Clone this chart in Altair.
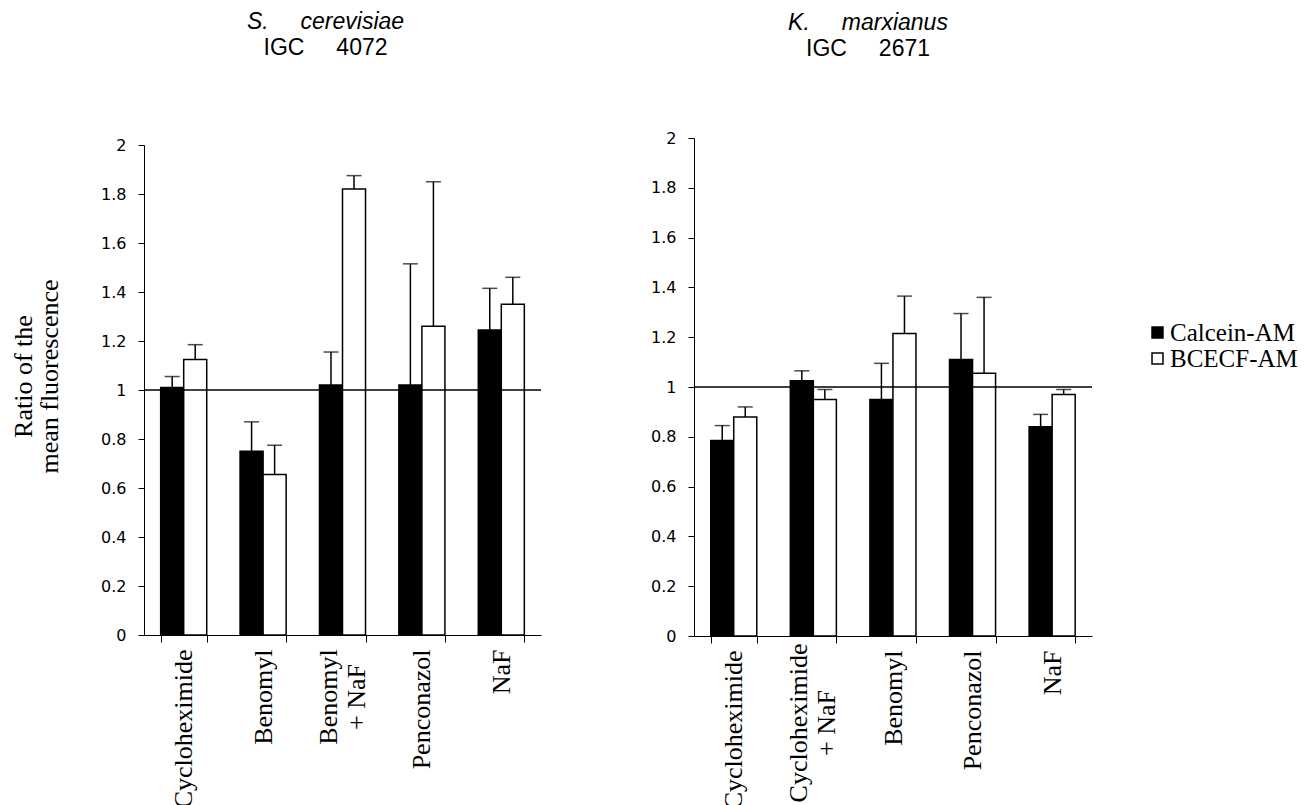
import altair as alt
import pandas as pd

NB = "\u00a0"

series = ["Calcein-AM", "BCECF-AM"]

# Left panel: S. cerevisiae IGC 4072
left_categories = ["Cycloheximide", "Benomyl", "Benomyl + NaF", "Penconazol", "NaF"]
left_calcein = [1.01, 0.75, 1.02, 1.02, 1.245]
left_calcein_err = [0.045, 0.12, 0.135, 0.495, 0.17]
left_bcecf = [1.125, 0.655, 1.82, 1.26, 1.35]
left_bcecf_err = [0.06, 0.12, 0.055, 0.59, 0.11]

# Right panel: K. marxianus IGC 2671
right_categories = ["Cycloheximide", "Cycloheximide + NaF", "Benomyl", "Penconazol", "NaF"]
right_calcein = [0.785, 1.025, 0.95, 1.11, 0.84]
right_calcein_err = [0.06, 0.04, 0.145, 0.185, 0.05]
right_bcecf = [0.88, 0.95, 1.215, 1.055, 0.97]
right_bcecf_err = [0.04, 0.04, 0.15, 0.305, 0.02]

y_ticks = [0, 0.2, 0.4, 0.6, 0.8, 1, 1.2, 1.4, 1.6, 1.8, 2]

# two-line category labels (drawn as centred text blocks)
multi_labels = {
    "Benomyl + NaF": "Benomyl|+ NaF",
    "Cycloheximide + NaF": "Cycloheximide|+ NaF",
}


def make_df(cats, calc, calc_err, bc, bc_err):
    rows = []
    for i, c in enumerate(cats):
        rows.append({"cat": c, "series": series[0], "value": calc[i], "upper": calc[i] + calc_err[i]})
        rows.append({"cat": c, "series": series[1], "value": bc[i], "upper": bc[i] + bc_err[i]})
    return pd.DataFrame(rows)


def panel(cats, df, title, subtitle, width, height, yrange, show_ytitle, dx, toff, multi_dx):
    base = alt.Chart(df)
    x = alt.X(
        "cat:N",
        sort=cats,
        title=None,
        scale=alt.Scale(paddingInner=0.42, paddingOuter=0.21),
        axis=alt.Axis(
            labelAngle=-90,
            labelAlign="right",
            labelBaseline="middle",
            labelFont="Liberation Serif",
            labelFontSize=26,
            labelColor="black",
            labelPadding=7,
            labelExpr="indexof(datum.label, '+') >= 0 ? '' : datum.label",
            tickBand="extent",
            tickSize=7,
            tickColor="black",
            domainColor="black",
            labelLimit=400,
        ),
    )
    xo = alt.XOffset("series:N", sort=series, scale=alt.Scale(paddingInner=0, paddingOuter=0))
    yaxis = dict(
        values=y_ticks,
        format="~g",
        labelFont="DejaVu Sans",
        labelFontSize=16,
        labelColor="black",
        labelPadding=12,
        tickSize=6,
        tickColor="black",
        domainColor="black",
        grid=False,
    )
    if show_ytitle:
        yaxis.update(
            title=["Ratio of the", "mean fluorescence"],
            titleFont="Liberation Serif",
            titleFontSize=26,
            titleFontWeight="normal",
            titleColor="black",
            titleLineHeight=26,
            titleX=-113,
            titleY=238,
            titleAngle=-90,
            titleBaseline="alphabetic",
            titleAlign="center",
        )
    else:
        yaxis.update(title=None)
    y = alt.Y("value:Q", scale=alt.Scale(domain=[0, 2], nice=False, range=yrange), axis=alt.Axis(**yaxis))
    color = alt.Color(
        "series:N",
        sort=series,
        scale=alt.Scale(domain=series, range=["black", "white"]),
        legend=alt.Legend(
            title=None,
            orient="none",
            legendX=1001,
            legendY=182,
            labelFont="Liberation Serif",
            labelFontSize=25,
            labelColor="black",
            symbolType="square",
            symbolSize=120,
            symbolStrokeColor="black",
            symbolStrokeWidth=1.5,
            rowPadding=-5,
            labelOffset=0,
        ),
    )
    bars = base.mark_bar(stroke="black", strokeWidth=1.5).encode(x=x, xOffset=xo, y=y, color=color)
    err = base.mark_rule(color="black", strokeWidth=1.5).encode(x=x, xOffset=xo, y="value:Q", y2="upper:Q")
    caps = base.mark_tick(color="black", thickness=1.5, size=15).encode(x=x, xOffset=xo, y="upper:Q")
    one = alt.Chart(pd.DataFrame({"v": [1]})).mark_rule(color="black", strokeWidth=1.5).encode(y="v:Q")

    mdf = pd.DataFrame(
        [{"cat": c, "label": multi_labels[c], "base": 0} for c in cats if c in multi_labels]
    )
    mtext = alt.Chart(mdf).mark_text(
        angle=270,
        align="center",
        baseline="middle",
        font="Liberation Serif",
        fontSize=26,
        lineHeight=28,
        lineBreak="|",
        color="black",
        dx=multi_dx,
        dy=-14,
    ).encode(x=alt.X("cat:N", sort=cats), y="base:Q", text="label:N")

    return alt.layer(bars, err, caps, one, mtext).properties(
        width=width,
        height=height,
        title=alt.TitleParams(
            text=title,
            subtitle=subtitle,
            anchor="middle",
            frame="group",
            dx=dx,
            font="Liberation Sans",
            fontSize=23,
            fontStyle="italic",
            fontWeight="normal",
            color="black",
            subtitleFont="Liberation Sans",
            subtitleFontSize=23,
            subtitleFontStyle="normal",
            subtitleColor="black",
            subtitlePadding=3,
            offset=toff,
        ),
    )


left = panel(
    left_categories,
    make_df(left_categories, left_calcein, left_calcein_err, left_bcecf, left_bcecf_err),
    "S." + NB * 5 + "cerevisiae",
    "IGC" + NB * 5 + "4072",
    397, 497, [497, 7], True, -17, 77, -62,
)
right = panel(
    right_categories,
    make_df(right_categories, right_calcein, right_calcein_err, right_bcecf, right_bcecf_err),
    "K." + NB * 5 + "marxianus",
    "IGC" + NB * 5 + "2671",
    398, 498, [498, 0], False, -25, 69, -87,
)

chart = (
    alt.hconcat(left, right, spacing=108)
    .properties(padding={"left": 2, "top": 3, "right": 5, "bottom": 5})
    .configure_view(stroke=None)
)

chart.save("out.html", embed_options={"renderer": "svg", "actions": False})
